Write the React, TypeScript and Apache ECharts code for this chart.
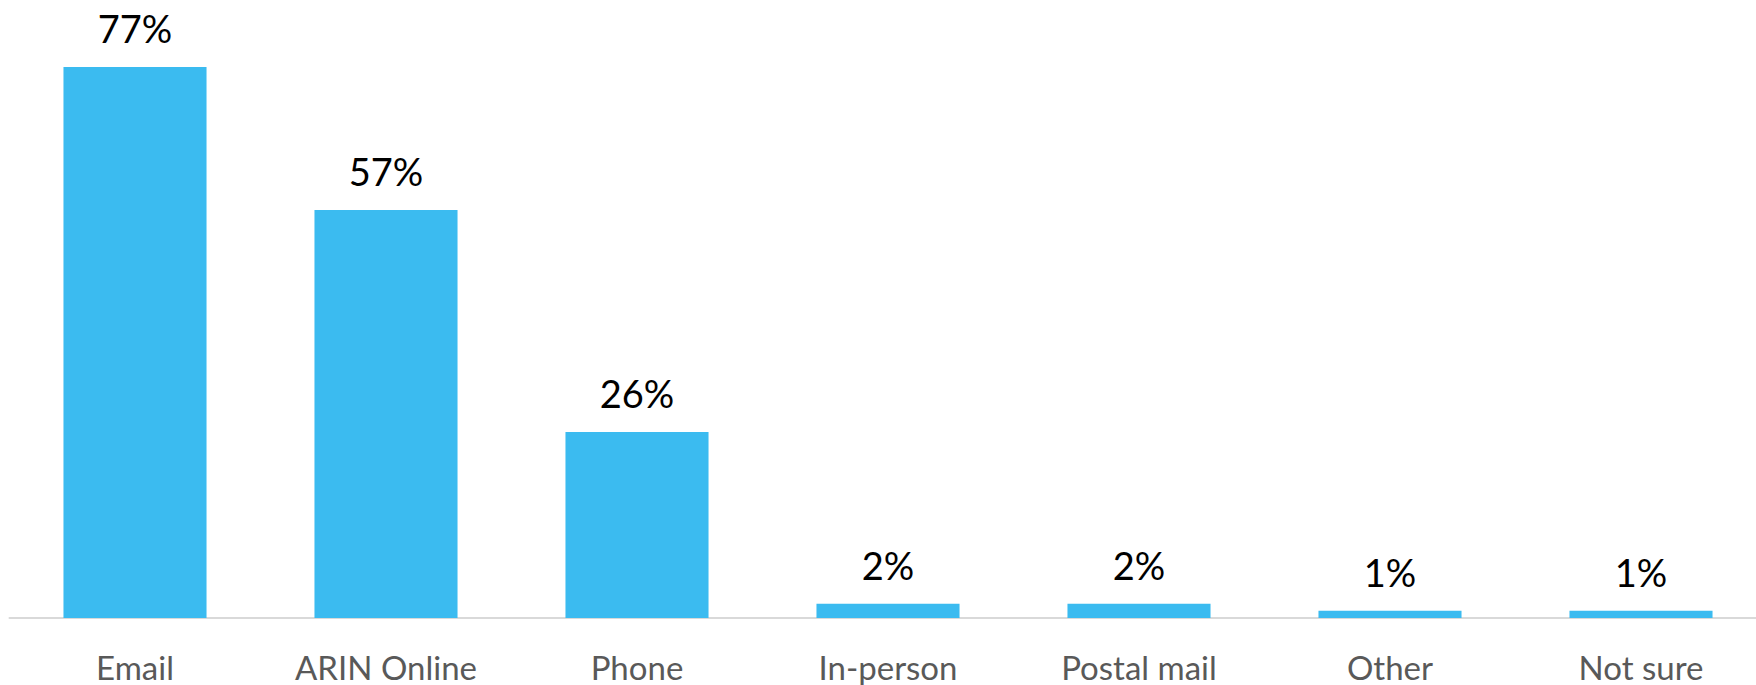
import React, { useEffect, useRef } from "react";
import * as echarts from "echarts";

const categories = ["Email", "ARIN Online", "Phone", "In-person", "Postal mail", "Other", "Not sure"];
const values = [77, 57, 26, 2, 2, 1, 1];

export default function App() {
  const ref = useRef<HTMLDivElement>(null);
  useEffect(() => {
    if (!ref.current) return;
    const chart = echarts.init(ref.current, null, { renderer: "svg" });
    chart.setOption({
      animation: false,
      grid: { left: 9.5, width: 1757, top: 45.5, bottom: 67, containLabel: false, outerBoundsMode: "none" },
      xAxis: {
        type: "category",
        data: categories,
        axisLine: { lineStyle: { color: "#d9d9d9", width: 2 } },
        axisTick: { show: false },
        axisLabel: { color: "#595959", fontFamily: "Lato", fontSize: 33, margin: 32 },
      },
      yAxis: { type: "value", min: 0, max: 80, show: false, splitLine: { show: false } },
      series: [
        {
          type: "bar",
          data: values,
          barWidth: "57%",
          itemStyle: { color: "#3BBBF0" },
          label: {
            show: true,
            position: "top",
            distance: 20,
            formatter: "{c}%",
            color: "#000000",
            fontFamily: "Lato",
            fontSize: 38,
          },
        },
      ],
    });
    return () => chart.dispose();
  }, []);
  return (
    <div
      ref={ref}
      style={{ position: "absolute", left: 0, top: 0, width: 1756, height: 685, background: "#fff" }}
    />
  );
}
